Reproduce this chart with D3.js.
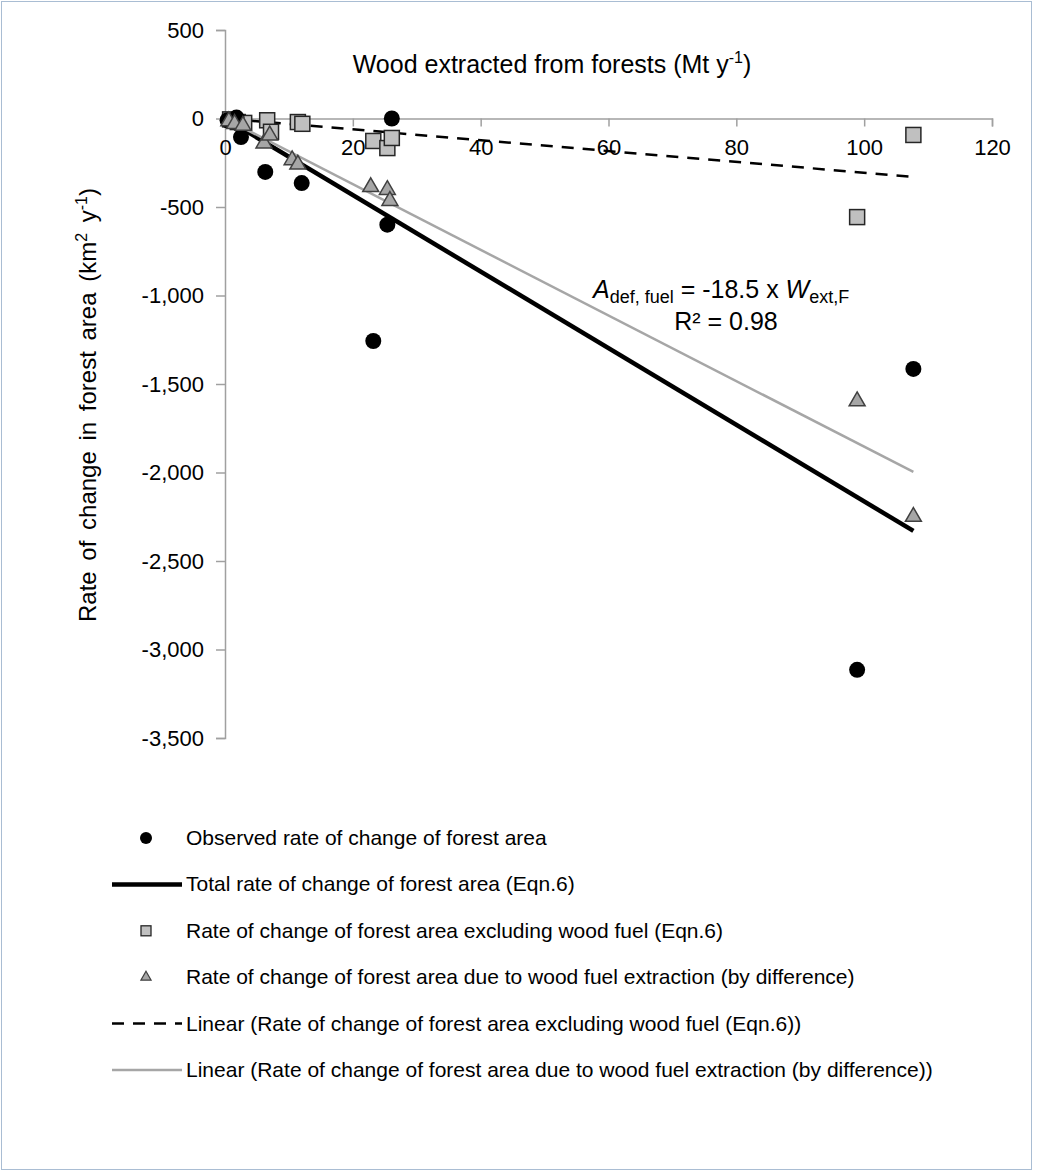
<!DOCTYPE html>
<html><head><meta charset="utf-8">
<script src="https://cdn.jsdelivr.net/npm/d3@7"></script>
<style>
body{margin:0;background:#fff;}
svg text{font-family:"Liberation Sans",Arial,sans-serif;fill:#000;}
</style></head>
<body>
<svg id="c" width="1037" height="1173"></svg>
<script>
// ---- data ----
const observedX = [0.4, 1.8, 2.5, 6.3, 12.0, 23.2, 25.4, 26.1, 98.9, 107.7];
const observedY = [-10, 5, -105, -302, -365, -1257, -600, 0, -3115, -1415];

const exclFuelX = [0.8, 2.0, 3.0, 6.6, 7.2, 11.4, 12.1, 23.2, 25.4, 26.1, 98.9, 107.7];
const exclFuelY = [-5, -20, -25, -10, -75, -20, -30, -127, -167, -110, -557, -93];

const fuelX = [0.6, 1.5, 2.8, 6.1, 7.0, 10.5, 11.4, 22.8, 25.4, 25.8, 98.9, 107.7];
const fuelY = [-15, -30, -40, -140, -95, -235, -260, -387, -403, -465, -1597, -2250];

const totalLineX = [0.3, 107.7];
const totalLineY = [-6, -2330];

const linearExclX = [0.3, 107.7];
const linearExclY = [-1, -330];

const linearFuelX = [0.3, 107.7];
const linearFuelY = [-6, -1997];

const xTicks = [0, 20, 40, 60, 80, 100, 120];
const yTicks = [500, 0, -500, -1000, -1500, -2000, -2500, -3000, -3500];

const legendLabels = [
  "Observed rate of change of forest area",
  "Total rate of change of forest area (Eqn.6)",
  "Rate of change of forest area excluding wood fuel (Eqn.6)",
  "Rate of change of forest area due to wood fuel extraction (by difference)",
  "Linear (Rate of change of forest area excluding wood fuel (Eqn.6))",
  "Linear (Rate of change of forest area due to wood fuel extraction (by difference))"
];

// ---- drawing ----
const svg = d3.select("#c");
svg.append("rect").attr("x",1.5).attr("y",1.5).attr("width",1030).attr("height",1168)
  .attr("fill","#fff").attr("stroke","#a9bdd3").attr("stroke-width",1);

const x = d3.scaleLinear().domain([0,120]).range([225,992]);
const y = d3.scaleLinear().domain([-3500,500]).range([738,30]);

const loc = d3.formatLocale({decimal:".",thousands:",",grouping:[3],currency:["",""],minus:"-"});
const fmt = loc.format(",");
const FF = "Liberation Sans, Arial, sans-serif";

// y axis
const gy = svg.append("g").attr("transform",`translate(${x(0)},0)`)
  .call(d3.axisLeft(y).tickValues(yTicks).tickSize(9).tickPadding(12).tickFormat(fmt));
gy.select(".domain").attr("stroke","#a0a0a0").attr("stroke-width",1.5);
gy.selectAll(".tick line").attr("stroke","#a0a0a0").attr("stroke-width",1.5);
gy.selectAll(".tick text").attr("font-size",22).attr("font-family",FF).attr("fill","#000");

// x axis
const gx = svg.append("g").attr("transform",`translate(0,${y(0)})`)
  .call(d3.axisBottom(x).tickValues(xTicks).tickSize(8).tickPadding(13).tickFormat(d3.format("d")));
gx.select(".domain").attr("stroke","#a0a0a0").attr("stroke-width",1.5);
gx.selectAll(".tick line").attr("stroke","#a0a0a0").attr("stroke-width",1.5);
gx.selectAll(".tick text").attr("font-size",22).attr("font-family",FF).attr("fill","#000");

// titles
const t1 = svg.append("text").attr("x",552).attr("y",73).attr("text-anchor","middle").attr("font-size",25);
t1.append("tspan").text("Wood extracted from forests (Mt y");
t1.append("tspan").attr("font-size",16).attr("dy",-10).text("-1");
t1.append("tspan").attr("dy",10).text(")");

const t2 = svg.append("text").attr("transform","translate(96,405) rotate(-90)").attr("text-anchor","middle")
  .attr("font-size",24).attr("word-spacing",4);
t2.append("tspan").text("Rate of change in forest area (km");
t2.append("tspan").attr("font-size",16).attr("dy",-9).text("2");
t2.append("tspan").attr("dy",9).text(" y");
t2.append("tspan").attr("font-size",16).attr("dy",-9).text("-1");
t2.append("tspan").attr("dy",9).text(")");

// lines
const line = d3.line().x(d=>x(d[0])).y(d=>y(d[1]));
const zip = (a,b)=>a.map((v,i)=>[v,b[i]]);
svg.append("path").datum(zip(linearExclX,linearExclY)).attr("d",line)
  .attr("fill","none").attr("stroke","#000").attr("stroke-width",2.5).attr("stroke-dasharray","12,9");

// markers: squares
const sq = 15;
svg.append("g").selectAll("rect").data(zip(exclFuelX,exclFuelY)).join("rect")
  .attr("x",d=>x(d[0])-sq/2).attr("y",d=>y(d[1])-sq/2).attr("width",sq).attr("height",sq)
  .attr("fill","#c0c0c0").attr("stroke","#262626").attr("stroke-width",1.5);

// circles
svg.append("g").selectAll("circle").data(zip(observedX,observedY)).join("circle")
  .attr("cx",d=>x(d[0])).attr("cy",d=>y(d[1])).attr("r",8).attr("fill","#000");

svg.append("path").datum(zip(totalLineX,totalLineY)).attr("d",line)
  .attr("fill","none").attr("stroke","#000").attr("stroke-width",4.5);
svg.append("path").datum(zip(linearFuelX,linearFuelY)).attr("d",line)
  .attr("fill","none").attr("stroke","#a6a6a6").attr("stroke-width",2.5);

// triangles
const tri = d3.symbol().type(d3.symbolTriangle).size(110);
svg.append("g").selectAll("path").data(zip(fuelX,fuelY)).join("path")
  .attr("d",tri).attr("transform",d=>`translate(${x(d[0])},${y(d[1])})`)
  .attr("fill","#a6a6a6").attr("stroke","#404040").attr("stroke-width",1.5);

// equation
const eq = svg.append("text").attr("x",593).attr("y",298).attr("font-size",25);
eq.append("tspan").attr("font-style","italic").text("A");
eq.append("tspan").attr("font-size",18).attr("dy",5).text("def, fuel");
eq.append("tspan").attr("dy",-5).text(" = -18.5 x ");
eq.append("tspan").attr("font-style","italic").text("W");
eq.append("tspan").attr("font-size",18).attr("dy",5).text("ext,F");
svg.append("text").attr("x",726).attr("y",330).attr("text-anchor","middle").attr("font-size",25).text("R² = 0.98");

// legend
const ly0 = 838, ldy = 46.4;
const lg = svg.append("g");
legendLabels.forEach((lab,i)=>{
  const yy = ly0 + i*ldy;
  lg.append("text").attr("x",186).attr("y",yy+7).attr("font-size",21).text(lab);
});
const mx = 146;
lg.append("circle").attr("cx",mx).attr("cy",ly0).attr("r",6).attr("fill","#000");
lg.append("line").attr("x1",112).attr("x2",182).attr("y1",ly0+ldy).attr("y2",ly0+ldy).attr("stroke","#000").attr("stroke-width",4.5);
lg.append("rect").attr("x",mx-5).attr("y",ly0+2*ldy-5).attr("width",10).attr("height",10).attr("fill","#c0c0c0").attr("stroke","#262626").attr("stroke-width",1.3);
lg.append("path").attr("d",d3.symbol().type(d3.symbolTriangle).size(45)).attr("transform",`translate(${mx},${ly0+3*ldy})`).attr("fill","#a6a6a6").attr("stroke","#404040").attr("stroke-width",1.2);
lg.append("line").attr("x1",112).attr("x2",182).attr("y1",ly0+4*ldy).attr("y2",ly0+4*ldy).attr("stroke","#000").attr("stroke-width",2.5).attr("stroke-dasharray","12,9");
lg.append("line").attr("x1",112).attr("x2",182).attr("y1",ly0+5*ldy).attr("y2",ly0+5*ldy).attr("stroke","#a6a6a6").attr("stroke-width",2.5);
</script>
</body></html>
